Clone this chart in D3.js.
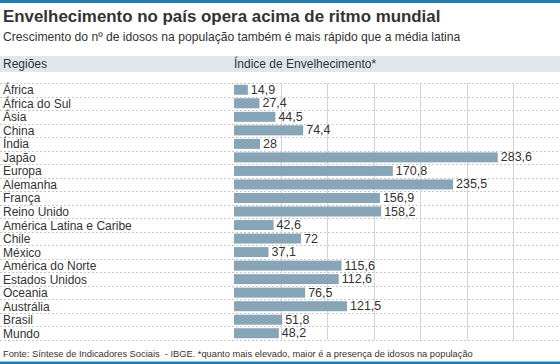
<!DOCTYPE html>
<html><head><meta charset="utf-8">
<script src="https://cdn.jsdelivr.net/npm/d3@7"></script>
<style>body{margin:0;background:#fff}svg{display:block}</style>
</head><body>
<script>
const categories = ["África","África do Sul","Ásia","China","Índia","Japão","Europa","Alemanha","França","Reino Unido","América Latina e Caribe","Chile","México","América do Norte","Estados Unidos","Oceania","Austrália","Brasil","Mundo"];
const values = [14.9,27.4,44.5,74.4,28,283.6,170.8,235.5,156.9,158.2,42.6,72,37.1,115.6,112.6,76.5,121.5,51.8,48.2];
const labels = ["14,9","27,4","44,5","74,4","28","283,6","170,8","235,5","156,9","158,2","42,6","72","37,1","115,6","112,6","76,5","121,5","51,8","48,2"];
const gridTicks = [50,100,150,200,250,300,350];

const W=560,H=364;
const svg=d3.select("body").append("svg").attr("width",W).attr("height",H)
  .style("font-family","'Liberation Sans', Arial, sans-serif");

svg.append("rect").attr("x",0).attr("y",0).attr("width",W).attr("height",3).attr("fill","#1f7db3");
svg.append("rect").attr("x",0).attr("y",361.5).attr("width",W).attr("height",2.5).attr("fill","#1f7db3");

svg.append("text").attr("x",3).attr("y",22).attr("font-size",16.9).attr("font-weight","bold").attr("fill","#333")
  .text("Envelhecimento no país opera acima de ritmo mundial");
svg.append("text").attr("x",3).attr("y",41).attr("font-size",12.15).attr("fill","#333")
  .text("Crescimento do nº de idosos na população também é mais rápido que a média latina");

svg.append("rect").attr("x",0).attr("y",56).attr("width",W).attr("height",16).attr("fill","#dfe7ee");
svg.append("text").attr("x",3).attr("y",68).attr("font-size",12).attr("fill","#333").text("Regiões");
svg.append("text").attr("x",234).attr("y",68).attr("font-size",12).attr("fill","#333").text("Índice de Envelhecimento*");

const x=d3.scaleLinear().domain([0,350]).range([234,559.5]);
const y=d3.scaleBand().domain(categories).range([83,340]).paddingInner(0.26).paddingOuter(0.13);
const top0=83;

// horizontal dashed lines
const hl=d3.range(categories.length+1).map(i=>top0+i*(340-top0)/categories.length);
svg.append("g").selectAll("line").data(hl).join("line")
  .attr("x1",0).attr("x2",W).attr("y1",d=>Math.round(d)+0.5).attr("y2",d=>Math.round(d)+0.5)
  .attr("stroke","#c8c8c8").attr("stroke-width",1).attr("stroke-dasharray","2,2");

// vertical gridlines
svg.append("g").selectAll("line").data(gridTicks).join("line")
  .attr("x1",d=>Math.round(x(d))+0.5).attr("x2",d=>Math.round(x(d))+0.5).attr("y1",83).attr("y2",340)
  .attr("stroke","#d4d4d4").attr("stroke-width",1);

svg.append("g").selectAll("rect").data(values).join("rect")
  .attr("x",x(0)).attr("y",(d,i)=>y(categories[i]))
  .attr("width",d=>x(d)-x(0)).attr("height",y.bandwidth())
  .attr("fill","#88a5b7");

svg.append("g").selectAll("text").data(categories).join("text")
  .attr("x",3).attr("y",d=>y(d)+y.bandwidth()/2+4.5).attr("font-size",12).attr("fill","#333").text(d=>d);

svg.append("g").selectAll("text").data(values).join("text")
  .attr("x",d=>x(d)+3).attr("y",(d,i)=>y(categories[i])+y.bandwidth()/2+4).attr("font-size",12.5).attr("fill","#333")
  .text((d,i)=>labels[i]);

svg.append("text").attr("x",3).attr("y",357).attr("font-size",9.3).attr("fill","#333")
  .attr("xml:space","preserve").style("white-space","pre")
  .text("Fonte: Síntese de Indicadores Sociais  - IBGE. *quanto mais elevado, maior é a presença de idosos na população");
</script>
</body></html>
